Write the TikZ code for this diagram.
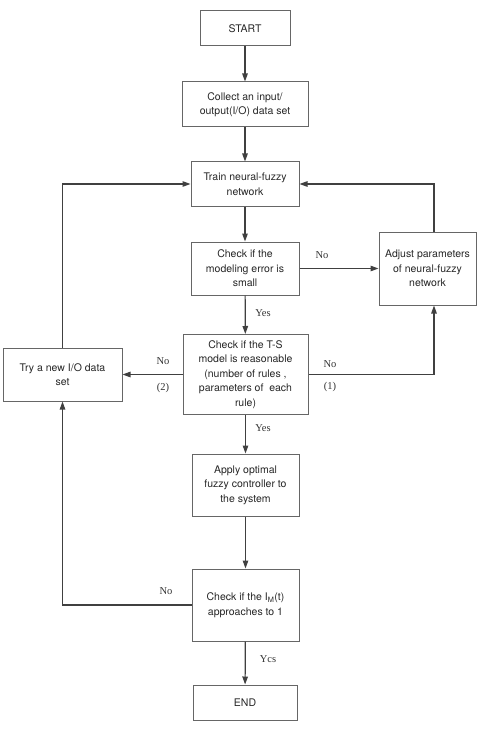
\documentclass[tikz,border=0pt]{standalone}
\usepackage{fontspec}
\setmainfont{Liberation Serif}
\newfontfamily\boxfont{TeX Gyre Heros}
\usetikzlibrary{arrows.meta}
\begin{document}
\begin{tikzpicture}[x=1pt,y=-1pt,
  box/.style={draw=black!60,line width=1pt,rectangle,align=center,inner sep=2pt,
     font=\boxfont\fontsize{10.5}{14.5}\selectfont,text=black!85},
  conn/.style={draw=black!75,line width=1.2pt,-{Triangle[length=8pt,width=5.5pt]}},
  lbl/.style={font=\fontsize{10.5}{12}\selectfont,text=black!80,inner sep=0pt}]
\useasboundingbox (0,0) rectangle (492,738);
\node[box,minimum width=90pt,minimum height=35pt] (start) at (245,28.5) {START};
\node[box,minimum width=126pt,minimum height=45pt] (collect) at (245,104.5) {Collect an input/\\output(I/O) data set};
\node[box,minimum width=108pt,minimum height=44pt] (train) at (245,184) {Train neural-fuzzy\\network};
\node[box,minimum width=108pt,minimum height=53pt] (err) at (245,268.5) {Check if the\\modeling error is\\small};
\node[box,minimum width=97pt,minimum height=73pt] (adjust) at (427.5,268.5) {Adjust parameters\\of neural-fuzzy\\network};
\node[box,minimum width=125pt,minimum height=80pt] (ts) at (245.5,374.5) {Check if the T-S\\model is reasonable\\(number of rules ,\\parameters of\ \ each\\rule)};
\node[box,minimum width=119pt,minimum height=53pt] (try) at (62.5,374.5) {Try a new I/O data\\set};
\node[box,minimum width=107pt,minimum height=62pt] (apply) at (245.5,485) {Apply optimal\\fuzzy controller to\\the system};
\node[box,minimum width=107pt,minimum height=72pt] (im) at (245.5,605) {Check if the I\textsubscript{M}(t)\\approaches to 1};
\node[box,minimum width=104pt,minimum height=35pt] (end) at (245,702.5) {END};
\coordinate (adjx) at (434,0);
\draw[conn] (start) -- (collect);
\draw[conn] (collect) -- (train);
\draw[conn] (train) -- (err);
\draw[conn] (err) -- (ts);
\draw[conn] (ts) -- (apply);
\draw[conn] (apply) -- (im);
\draw[conn] (im) -- (end);
\draw[conn] (err) -- (adjust);
\draw[conn] (adjust.north -| adjx) |- (train.east);
\draw[conn] (ts.east) -| (adjust.south -| adjx);
\draw[conn] (ts) -- (try);
\draw[conn] (try.north) |- (train.west);
\draw[conn] (im.west) -| (try.south);
\node[lbl] (l1) at (322,255) {No};
\node[lbl] (l2) at (263,313) {Yes};
\node[lbl] (l3) at (163,361) {No};
\node[lbl] (l4) at (163,388) {(2)};
\node[lbl] (l5) at (330,364) {No};
\node[lbl] (l6) at (330,387) {(1)};
\node[lbl] (l7) at (263,428) {Yes};
\node[lbl] (l8) at (166,591) {No};
\node[lbl] (l9) at (268,659) {Ycs};
\end{tikzpicture}
\end{document}
